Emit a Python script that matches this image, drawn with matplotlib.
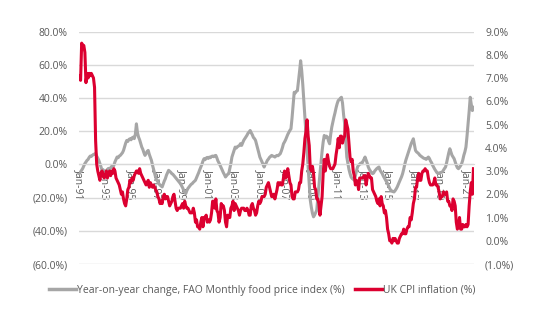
from matplotlib import pyplot as plt
from matplotlib.ticker import FuncFormatter
import numpy as np

plt.rcParams['font.family'] = ['Open Sans', 'DejaVu Sans']

# monthly values, Jan 1991 - Aug 2021
fao_yoy = [
    -5.4, -4.5, -3.5, -2.4, -1.0, 0.5, 1.5, 2.4, 3.0, 4.2, 5.0, 4.8,           # 1991
    5.4, 6.0, 6.2, 6.6, 5.0, 3.8, 2.4, 0.5, -1.5, -3.6, -3.2, -4.2,            # 1992
    -4.6, -3.8, -3.0, -2.4, -3.0, -2.0, -1.2, -1.8, -0.6, 1.5, 3.0, 4.4,       # 1993
    4.0, 5.0, 5.4, 6.2, 7.0, 8.4, 10.5, 12.8, 14.4, 13.8, 15.0, 15.4,          # 1994
    14.8, 16.0, 16.4, 15.5, 18.0, 24.4, 19.0, 16.4, 14.8, 12.5, 10.4, 9.0,     # 1995
    7.0, 5.4, 6.5, 7.8, 8.4, 6.0, 4.2, 2.4, -0.5, -3.0, -5.6, -8.0,            # 1996
    -9.5, -10.6, -11.6, -12.5, -13.0, -13.6, -11.8, -10.0, -8.6, -6.5, -5.0, -3.6,   # 1997
    -4.2, -4.8, -5.6, -6.0, -6.8, -7.6, -8.5, -9.2, -10.0, -10.8, -11.6, -12.8,     # 1998
    -14.0, -15.5, -16.5, -17.6, -15.8, -14.5, -13.6, -12.8, -12.0, -11.6, -10.8, -10.2,  # 1999
    -9.6, -8.0, -6.5, -5.0, -3.2, -1.6, 0.0, 2.0, 3.4, 2.8, 3.8, 4.2,          # 2000
    3.6, 4.4, 4.0, 4.8, 5.0, 4.6, 5.2, 5.4, 3.8, 2.0, 0.8, -0.6,               # 2001
    -2.0, -3.5, -5.0, -6.2, -7.6, -6.8, -6.0, -5.6, -2.5, 0.5, 4.4, 6.5,       # 2002
    8.4, 10.4, 9.8, 10.6, 11.0, 11.4, 12.5, 11.4, 13.0, 14.5, 15.5, 16.4,      # 2003
    17.5, 18.8, 19.5, 20.4, 19.0, 17.8, 16.2, 15.5, 14.4, 12.0, 9.5, 7.0,      # 2004
    4.4, 3.0, 1.5, 0.0, -1.6, 0.0, 1.0, 2.4, 3.2, 4.2, 4.8, 5.4,               # 2005
    5.0, 4.8, 4.4, 5.0, 5.4, 5.2, 5.8, 6.4, 8.0, 10.0, 12.4, 13.5,             # 2006
    14.8, 16.4, 18.0, 19.2, 20.5, 21.4, 28.0, 36.0, 43.4, 43.0, 44.0, 44.4,    # 2007
    50.0, 56.0, 62.4, 56.4, 48.0, 38.0, 28.4, 18.0, 8.0, -1.6, -12.0, -21.6,   # 2008
    -26.0, -29.5, -31.6, -30.5, -29.0, -27.6, -20.0, -13.0, -5.6, 1.0, 8.0, 13.5,  # 2009
    17.4, 16.0, 17.0, 16.4, 14.0, 12.4, 18.0, 22.4, 25.5, 28.4, 31.0, 34.0,    # 2010
    36.5, 38.4, 39.0, 39.8, 40.4, 37.0, 30.0, 24.4, 14.0, 4.4, 0.5, -3.0,      # 2011
    -5.5, -7.6, -8.5, -9.0, -9.6, -7.0, -4.0, -1.6, -0.5, 0.0, 0.8, 0.4,       # 2012
    1.8, 3.0, 4.4, 2.5, 0.8, -1.6, -3.0, -4.0, -5.0, -5.6, -5.2, -4.0,         # 2013
    -3.2, -2.5, -2.0, -1.6, -3.5, -4.5, -5.6, -7.0, -8.2, -9.5, -10.5, -11.6,  # 2014
    -13.0, -14.5, -15.6, -16.0, -16.4, -16.6, -15.8, -14.8, -13.6, -12.0, -10.5, -9.0,  # 2015
    -7.5, -5.6, -3.0, 0.0, 2.5, 4.4, 6.5, 8.5, 10.4, 12.5, 14.0, 15.4,         # 2016
    12.0, 8.4, 7.5, 7.0, 6.4, 5.5, 5.0, 4.5, 4.0, 3.6, 3.4, 3.0,               # 2017
    3.8, 4.4, 3.5, 2.0, 1.0, -0.6, -1.8, -3.0, -4.0, -5.0, -5.6, -5.2,         # 2018
    -5.0, -4.8, -4.6, -3.5, -2.5, -1.6, 1.0, 4.0, 7.0, 9.4, 7.5, 5.5,          # 2019
    4.5, 3.4, 1.5, -0.5, -2.0, -2.6, -1.8, -0.8, 0.4, 2.5, 5.4, 7.5,           # 2020
    10.4, 17.0, 24.4, 32.0, 40.4, 36.0, 32.4, 34.4,                            # 2021
]

uk_cpi = [
    7.1, 6.9, 8.5, 8.4, 8.4, 8.1, 6.8, 7.2, 7.0, 7.2, 7.1, 7.2,   # 1991
    7.1, 7.0, 6.6, 4.3, 3.3, 3.0, 2.8, 2.6, 2.9, 3.0, 2.8, 2.7,   # 1992
    2.8, 3.0, 2.7, 2.9, 3.0, 2.8, 3.0, 2.9, 3.1, 3.0, 2.7, 2.6,   # 1993
    2.5, 2.4, 2.2, 2.0, 2.1, 1.8, 1.6, 1.5, 1.8, 2.2, 2.3, 2.6,   # 1994
    2.5, 2.7, 2.6, 2.8, 2.9, 3.0, 3.0, 2.9, 3.1, 2.9, 2.8, 2.7,   # 1995
    2.6, 2.5, 2.4, 2.5, 2.6, 2.3, 2.5, 2.4, 2.3, 2.4, 2.3, 2.2,   # 1996
    2.1, 1.9, 1.8, 1.6, 1.7, 1.6, 1.9, 2.0, 1.8, 1.9, 1.9, 1.7,   # 1997
    1.5, 1.6, 1.7, 1.9, 2.0, 1.7, 1.4, 1.3, 1.4, 1.4, 1.4, 1.5,   # 1998
    1.6, 1.4, 1.7, 1.5, 1.4, 1.4, 1.3, 1.2, 1.2, 1.2, 1.4, 1.2,   # 1999
    0.8, 0.9, 0.6, 0.6, 0.5, 0.8, 1.0, 0.6, 1.0, 1.0, 1.1, 0.8,   # 2000
    0.9, 0.8, 0.9, 1.2, 1.7, 1.7, 1.4, 1.8, 1.3, 1.2, 0.8, 1.0,   # 2001
    1.6, 1.5, 1.5, 1.3, 0.8, 0.6, 1.1, 1.0, 1.0, 1.4, 1.5, 1.7,   # 2002
    1.3, 1.6, 1.5, 1.4, 1.3, 1.1, 1.3, 1.4, 1.4, 1.4, 1.3, 1.3,   # 2003
    1.4, 1.3, 1.1, 1.1, 1.5, 1.6, 1.4, 1.3, 1.1, 1.2, 1.5, 1.7,   # 2004
    1.6, 1.7, 1.9, 1.9, 1.9, 2.0, 2.3, 2.4, 2.5, 2.3, 2.1, 1.9,   # 2005
    1.9, 2.0, 1.8, 2.0, 2.2, 2.5, 2.4, 2.5, 2.4, 2.4, 2.7, 3.0,   # 2006
    2.7, 2.8, 3.1, 2.8, 2.5, 2.4, 1.9, 1.8, 1.8, 2.1, 2.1, 2.1,   # 2007
    2.2, 2.5, 2.5, 3.0, 3.3, 3.8, 4.4, 4.7, 5.2, 4.5, 4.1, 3.1,   # 2008
    3.0, 3.2, 2.9, 2.3, 2.2, 1.8, 1.8, 1.6, 1.1, 1.5, 1.9, 2.9,   # 2009
    3.5, 3.0, 3.4, 3.7, 3.4, 3.2, 3.1, 3.1, 3.1, 3.2, 3.3, 3.7,   # 2010
    4.0, 4.4, 4.0, 4.5, 4.5, 4.2, 4.4, 4.5, 5.2, 5.0, 4.8, 4.2,   # 2011
    3.6, 3.4, 3.5, 3.0, 2.8, 2.4, 2.6, 2.5, 2.2, 2.7, 2.7, 2.7,   # 2012
    2.7, 2.8, 2.8, 2.4, 2.7, 2.9, 2.8, 2.7, 2.7, 2.2, 2.1, 2.0,   # 2013
    1.9, 1.7, 1.6, 1.8, 1.5, 1.9, 1.6, 1.5, 1.2, 1.3, 1.0, 0.5,   # 2014
    0.3, 0.0, 0.0, -0.1, 0.1, 0.0, 0.1, 0.0, -0.1, -0.1, 0.1, 0.2,  # 2015
    0.3, 0.3, 0.5, 0.3, 0.3, 0.5, 0.6, 0.6, 1.0, 0.9, 1.2, 1.6,   # 2016
    1.8, 2.3, 2.3, 2.7, 2.9, 2.6, 2.6, 2.9, 3.0, 3.0, 3.1, 3.0,   # 2017
    3.0, 2.7, 2.5, 2.4, 2.4, 2.4, 2.5, 2.7, 2.4, 2.4, 2.3, 2.1,   # 2018
    1.8, 1.9, 1.9, 2.1, 2.0, 2.0, 2.1, 1.7, 1.7, 1.5, 1.5, 1.3,   # 2019
    1.8, 1.7, 1.5, 0.8, 0.5, 0.6, 1.0, 0.5, 0.5, 0.7, 0.6, 0.6,   # 2020
    0.7, 0.6, 0.7, 1.5, 2.1, 2.5, 2.0, 3.1,                       # 2021
]

tick_labels = ['Jan-91', 'Jan-93', 'Jan-95', 'Jan-97', 'Jan-99', 'Jan-01', 'Jan-03', 'Jan-05',
               'Jan-07', 'Jan-09', 'Jan-11', 'Jan-13', 'Jan-15', 'Jan-17', 'Jan-19', 'Jan-21']

label_col = '#595959'
grid_col = '#d9d9d9'


def pct_fmt(v, pos):
    if v < 0:
        return '(%.1f%%)' % abs(v)
    return '%.1f%%' % v


months = np.arange(len(fao_yoy))

fig = plt.figure(figsize=(5.5, 3.3), dpi=100)
ax = fig.add_axes([0.1436, 0.2, 0.7182, 0.7045])
ax2 = ax.twinx()

l1, = ax.plot(months, fao_yoy, color='#a6a6a6', lw=2.2, solid_joinstyle='round',
              label='Year-on-year change, FAO Monthly food price index (%)')
l2, = ax2.plot(np.arange(len(uk_cpi)), uk_cpi, color='#dc0030', lw=2.2, solid_joinstyle='round',
               label='UK CPI inflation (%)')

ax.set_xlim(-0.5, len(fao_yoy) - 0.5)
ax.set_ylim(-60, 80)
ax.set_yticks(np.arange(-60, 81, 20))
ax2.set_ylim(-1, 9)
ax2.set_yticks(np.arange(-1, 10, 1))
ax.yaxis.set_major_formatter(FuncFormatter(pct_fmt))
ax2.yaxis.set_major_formatter(FuncFormatter(pct_fmt))

ax.grid(axis='y', color=grid_col, lw=1)
ax.set_axisbelow(True)
for a in (ax, ax2):
    for s in a.spines.values():
        s.set_visible(False)
ax.spines['bottom'].set_visible(True)
ax.spines['bottom'].set_position(('data', 0))
ax.spines['bottom'].set_color(grid_col)

ax.set_xticks(np.arange(0, len(fao_yoy), 24))
ax.set_xticklabels(tick_labels, rotation=270, ha='center', va='top')
ax.tick_params(axis='x', length=0, pad=3, labelsize=7.5, labelcolor=label_col)
ax.tick_params(axis='y', length=0, pad=8, labelsize=7.5, labelcolor=label_col)
ax2.tick_params(axis='y', length=0, pad=8, labelsize=7.5, labelcolor=label_col)

leg = fig.legend(handles=[l1, l2], loc='center', bbox_to_anchor=(0.477, 0.121), ncol=2,
                 frameon=False, fontsize=7.5, handlelength=2.6, handletextpad=0.1,
                 columnspacing=1.0, labelcolor=label_col)
for h in leg.legend_handles:
    h.set_linewidth(2.5)

fig.savefig('out.png', dpi=100)
